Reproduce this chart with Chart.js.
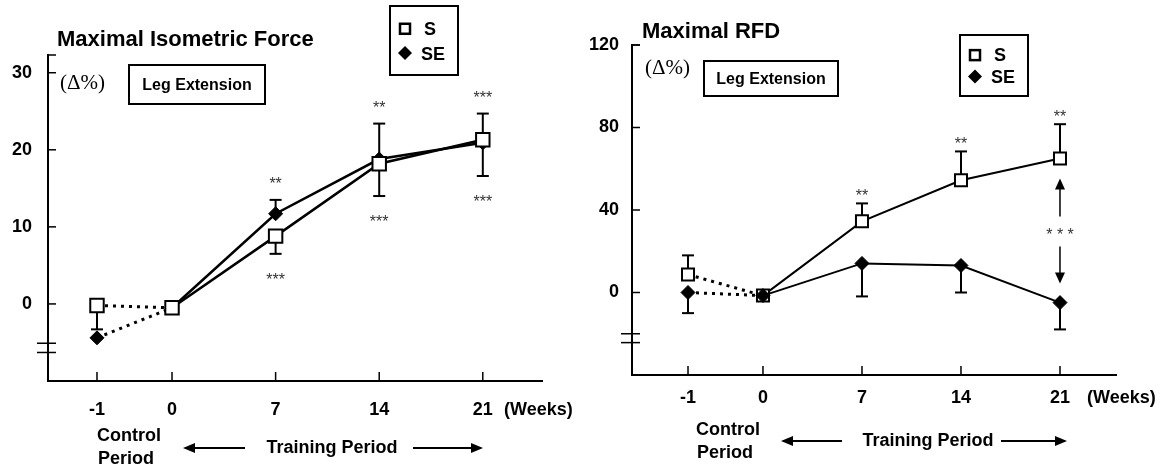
<!DOCTYPE html>
<html>
<head>
<meta charset="utf-8">
<script src="https://cdn.jsdelivr.net/npm/chart.js@4"></script>
<style>
  body { margin: 0; background: #fff; }
  .panel { position: absolute; top: 0; width: 584px; height: 471px; }
</style>
</head>
<body>
<div class="panel" style="left:0"><canvas id="forceChart" width="584" height="471"></canvas></div>
<div class="panel" style="left:584px"><canvas id="rfdChart" width="584" height="471"></canvas></div>
<script>
// weeks of measurement (-1 = control period)
const weeks = [-1, 0, 7, 14, 21];

// Maximal isometric force, change in %
const forceS = [-0.2, -0.5, 8.8, 18.2, 21.3];
const forceSE = [-4.4, -0.5, 11.7, 18.8, 20.9];
const forceErrS = [3.1, 0, 2.3, 4.2, 4.7];
const forceErrSE = [0, 0, 1.8, 4.6, 3.8];
const forceStarsS = ['', '', '***', '***', '***'];
const forceStarsSE = ['', '', '**', '**', '***'];
const forceTicks = [0, 10, 20, 30];

// Maximal RFD, change in %
const rfdS = [8.7, -1.5, 34.5, 54.4, 65.0];
const rfdSE = [0, -1.5, 14.1, 13.1, -4.9];
const rfdErrS = [9.3, 0, 8.7, 14.0, 16.6];
const rfdErrSE = [10, 0, 16, 13.1, 13];
const rfdStarsS = ['', '', '**', '**', '**'];
const rfdTicks = [0, 40, 80, 120];

const FONT = "'Liberation Sans', Arial, Helvetica, sans-serif";
const SERIF = "'Liberation Serif', 'Times New Roman', serif";

// linear week axis where the control week is stretched away from week 0
class WeekScale extends Chart.LinearScale {
    getPixelForValue(value) {
        const k = this.options.controlStretch || 1;
        return super.getPixelForValue(value < 0 ? value * k : value);
    }
}
WeekScale.id = 'weeks';
WeekScale.defaults = { ticks: { callback: v => String(v) } };
Chart.register(WeekScale);

function toPoints(values) {
    return weeks.map((w, i) => ({ x: w, y: values[i] }));
}

function line(ctx, x1, y1, x2, y2) {
    ctx.beginPath();
    ctx.moveTo(x1, y1);
    ctx.lineTo(x2, y2);
    ctx.stroke();
}

function arrow(ctx, x1, y1, x2, y2, len, half) {
    const a = Math.atan2(y2 - y1, x2 - x1);
    line(ctx, x1, y1, x2 - Math.cos(a) * len * 0.8, y2 - Math.sin(a) * len * 0.8);
    ctx.beginPath();
    ctx.moveTo(x2, y2);
    ctx.lineTo(x2 - Math.cos(a) * len - Math.sin(a) * half, y2 - Math.sin(a) * len + Math.cos(a) * half);
    ctx.lineTo(x2 - Math.cos(a) * len + Math.sin(a) * half, y2 - Math.sin(a) * len - Math.cos(a) * half);
    ctx.closePath();
    ctx.fill();
}

function text(ctx, str, x, y, font, align) {
    ctx.font = font;
    ctx.textAlign = align || 'left';
    ctx.textBaseline = 'middle';
    ctx.fillText(str, x, y);
}

function stars(ctx, str, x, y) {
    // asterisks sit high in the glyph box, so place by baseline
    ctx.font = '16px ' + FONT;
    ctx.textAlign = 'center';
    ctx.textBaseline = 'alphabetic';
    ctx.fillStyle = '#333';
    ctx.fillText(str, x, y + 9);
    ctx.fillStyle = '#000';
}

function errorEnd(chart, e, i) {
    const ds = chart.data.datasets[e.dataset];
    return chart.scales.y.getPixelForValue(ds.data[i].y + e.dir * e.values[i]);
}

function decorPlugin(cfg) {
    return {
        id: 'decor',
        beforeDatasetsDraw(chart) {
            const ctx = chart.ctx;
            ctx.save();
            ctx.strokeStyle = '#000';
            ctx.lineWidth = 2;
            cfg.errors.forEach(e => {
                const meta = chart.getDatasetMeta(e.dataset);
                meta.data.forEach((pt, i) => {
                    if (!e.values[i]) return;
                    const end = errorEnd(chart, e, i);
                    line(ctx, pt.x, pt.y, pt.x, end);
                    line(ctx, pt.x - 6, end, pt.x + 6, end);
                });
            });
            ctx.restore();
        },
        afterDraw(chart) {
            const ctx = chart.ctx;
            const a = chart.chartArea;
            const xs = chart.scales.x, ys = chart.scales.y;
            ctx.save();
            ctx.strokeStyle = '#000';
            ctx.fillStyle = '#000';

            // inward tick marks, top nub and axis break
            ctx.lineWidth = 1.5;
            ys.ticks.forEach(t => {
                const py = ys.getPixelForValue(t.value);
                line(ctx, a.left, py, a.left + 8, py);
            });
            line(ctx, a.left, a.top, a.left + 8, a.top);
            xs.ticks.forEach(t => {
                const px = xs.getPixelForValue(t.value);
                line(ctx, px, a.bottom, px, a.bottom - 9);
            });
            cfg.breaks.forEach(v => {
                const py = ys.getPixelForValue(v);
                line(ctx, a.left - 11, py, a.left + 8, py);
            });

            // significance marks
            cfg.stars.forEach(s => {
                const e = cfg.errors[s.error];
                const meta = chart.getDatasetMeta(e.dataset);
                s.labels.forEach((lab, i) => {
                    if (!lab) return;
                    stars(ctx, lab, meta.data[i].x, errorEnd(chart, e, i) - e.dir * s.gap);
                });
            });
            if (cfg.between) {
                const b = cfg.between;
                const pa = chart.getDatasetMeta(0).data[b.index];
                const pb = chart.getDatasetMeta(1).data[b.index];
                const mid = (pa.y + pb.y) / 2;
                stars(ctx, b.label, pa.x, mid);
                ctx.lineWidth = 1.5;
                arrow(ctx, pa.x, mid - 14, pa.x, pa.y + 20, 11, 5);
                arrow(ctx, pa.x, mid + 16, pa.x, pb.y - 19, 11, 5);
            }

            // titles and boxes
            text(ctx, cfg.title, cfg.titlePos[0], cfg.titlePos[1], 'bold 22px ' + FONT);
            text(ctx, '(\u0394%)', cfg.unitPos[0], cfg.unitPos[1], '21px ' + SERIF);
            ctx.lineWidth = 2;
            const bx = cfg.boxRect;
            ctx.strokeRect(bx[0], bx[1], bx[2], bx[3]);
            text(ctx, 'Leg Extension', bx[0] + bx[2] / 2, bx[1] + bx[3] / 2 + 1, 'bold 16px ' + FONT, 'center');

            const lg = cfg.legendRect;
            ctx.strokeRect(lg[0], lg[1], lg[2], lg[3]);
            const mx = lg[0] + 15;
            const sy = lg[1] + lg[3] * 0.33, dy = lg[1] + lg[3] * 0.68;
            ctx.lineWidth = 2.5;
            ctx.strokeRect(mx - 5, sy - 5, 10, 10);
            ctx.beginPath();
            ctx.moveTo(mx - 7, dy); ctx.lineTo(mx, dy - 7); ctx.lineTo(mx + 7, dy); ctx.lineTo(mx, dy + 7);
            ctx.closePath();
            ctx.fill();
            text(ctx, 'S', mx + 19, sy + 1, 'bold 18px ' + FONT);
            text(ctx, 'SE', mx + 16, dy + 2, 'bold 18px ' + FONT);

            // x axis captions
            const f18 = 'bold 18px ' + FONT;
            text(ctx, '(Weeks)', cfg.weeksPos[0], cfg.weeksPos[1], f18);
            text(ctx, 'Control', cfg.controlPos[0], cfg.controlPos[1], f18, 'center');
            text(ctx, 'Period', cfg.controlPos[0] - 3, cfg.controlPos[1] + 23, f18, 'center');
            const tp = cfg.trainPos;
            text(ctx, 'Training Period', tp[0], tp[1], f18, 'center');
            ctx.lineWidth = 2;
            arrow(ctx, cfg.arrowL[1], tp[1], cfg.arrowL[0], tp[1], 12, 5);
            arrow(ctx, cfg.arrowR[0], tp[1], cfg.arrowR[1], tp[1], 12, 5);
            ctx.restore();
        }
    };
}

function makeChart(id, o) {
    // control-period link is dotted, training period solid
    const lineDash = {
        borderDash: ctx => ctx.p0DataIndex === 0 ? [3, 5] : undefined,
        borderWidth: ctx => ctx.p0DataIndex === 0 ? 3 : o.lineWidth
    };
    return new Chart(document.getElementById(id), {
        type: 'line',
        data: {
            datasets: [
                {
                    label: 'S',
                    data: toPoints(o.s),
                    borderColor: '#000',
                    borderWidth: o.lineWidth,
                    pointStyle: 'rect',
                    pointRadius: o.squareRadius,
                    pointBackgroundColor: '#fff',
                    pointBorderColor: '#000',
                    pointBorderWidth: 2,
                    segment: lineDash,
                    order: o.sOrder
                },
                {
                    label: 'SE',
                    data: toPoints(o.se),
                    borderColor: '#000',
                    borderWidth: o.lineWidth,
                    pointStyle: 'rectRot',
                    pointRadius: 7,
                    pointBackgroundColor: '#000',
                    pointBorderColor: '#000',
                    pointBorderWidth: 1,
                    segment: lineDash,
                    order: o.seOrder
                }
            ]
        },
        options: {
            responsive: false,
            animation: false,
            events: [],
            layout: { padding: o.padding },
            plugins: {
                legend: { display: false },
                tooltip: { enabled: false }
            },
            scales: {
                x: {
                    type: 'weeks',
                    min: o.xMin,
                    max: o.xMax,
                    controlStretch: o.stretch,
                    afterBuildTicks: s => { s.ticks = weeks.map(w => ({ value: w })); },
                    afterFit: s => { s.height = o.xHeight; },
                    grid: { display: false, drawTicks: false },
                    border: { display: true, color: '#000', width: 2 },
                    ticks: {
                        autoSkip: false,
                        maxRotation: 0,
                        padding: o.xPad,
                        color: '#000',
                        font: { family: FONT, size: 18, weight: 'bold' },
                        callback: v => String(v)
                    }
                },
                y: {
                    type: 'linear',
                    min: o.yMin,
                    max: o.yMax,
                    afterBuildTicks: s => { s.ticks = o.ticks.map(v => ({ value: v })); },
                    afterFit: s => { s.width = 48; },
                    grid: { display: false, drawTicks: false },
                    border: { display: true, color: '#000', width: 2 },
                    ticks: {
                        padding: o.yPad,
                        color: '#000',
                        font: { family: FONT, size: 18, weight: 'bold' }
                    }
                }
            }
        },
        plugins: [decorPlugin(o.decor)]
    });
}

makeChart('forceChart', {
    s: forceS, se: forceSE, sOrder: 0, seOrder: 1, squareRadius: 9.5, lineWidth: 2.5,
    xMin: -8.38, xMax: 25, stretch: 5.07, xHeight: 90, xPad: 18,
    yMin: -10, yMax: 32.3, ticks: forceTicks, yPad: 16,
    padding: { left: 0, right: 42, top: 55, bottom: 0 },
    decor: {
        errors: [
            { dataset: 0, values: forceErrS, dir: -1 },
            { dataset: 1, values: forceErrSE, dir: 1 }
        ],
        stars: [
            { error: 0, labels: forceStarsS, gap: 22 },
            { error: 1, labels: forceStarsSE, gap: 20 }
        ],
        breaks: [-5.1, -6.3],
        title: 'Maximal Isometric Force', titlePos: [57, 40],
        unitPos: [60, 83],
        boxRect: [129, 65, 136, 39],
        legendRect: [390, 6, 68, 69],
        weeksPos: [504, 410],
        controlPos: [129, 436],
        trainPos: [332, 448],
        arrowL: [183, 245],
        arrowR: [413, 483]
    }
});

makeChart('rfdChart', {
    s: rfdS, se: rfdSE, sOrder: 1, seOrder: 0, squareRadius: 8.5, lineWidth: 2,
    xMin: -9.26, xMax: 24.96, stretch: 5.3, xHeight: 96, xPad: 12,
    yMin: -40, yMax: 120, ticks: rfdTicks, yPad: 13,
    padding: { left: 0, right: 52, top: 45, bottom: 0 },
    decor: {
        errors: [
            { dataset: 0, values: rfdErrS, dir: 1 },
            { dataset: 1, values: rfdErrSE, dir: -1 }
        ],
        stars: [
            { error: 0, labels: rfdStarsS, gap: 11 }
        ],
        between: { index: 4, label: '* * *' },
        breaks: [-20, -24.3],
        title: 'Maximal RFD', titlePos: [58, 32],
        unitPos: [61, 68],
        boxRect: [120, 61, 134, 35],
        legendRect: [376, 35, 68, 61],
        weeksPos: [503, 398],
        controlPos: [144, 430],
        trainPos: [344, 441],
        arrowL: [197, 258],
        arrowR: [417, 483]
    }
});
</script>
</body>
</html>
